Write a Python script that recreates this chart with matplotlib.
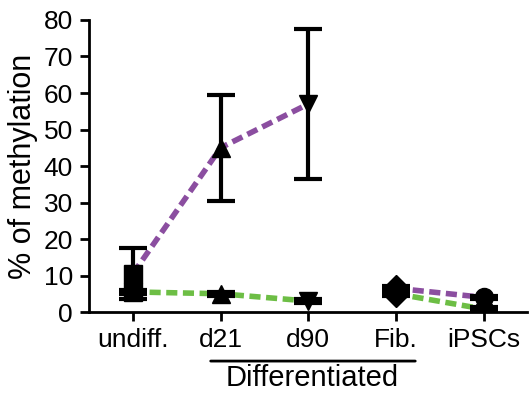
import numpy as np
import matplotlib.pyplot as plt

plt.rcParams['font.family'] = 'Liberation Sans'

groups = ['undiff.', 'd21', 'd90', 'Fib.', 'iPSCs']
markers = ['s', '^', 'v', 'D', 'o']

purple_mean = [10.5, 45, 57, 6.5, 4]
purple_err = [7, 14.5, 20.5, 0.5, 0.5]
green_mean = [5.5, 5, 3, 5, 0.8]
green_err = [0.5, 0.5, 0.5, 0.5, 0.5]

# lines are broken between d90 and Fib.
segments = [[0, 1, 2], [3, 4]]

x = np.arange(len(groups))

fig = plt.figure(figsize=(5.3, 3.96), dpi=100)
ax = fig.add_axes([0.168, 0.2121, 0.826, 0.7374])

for seg in segments:
    ax.plot(x[seg], np.array(purple_mean)[seg], color='#8B4EA0', lw=4, dashes=(2, 1), zorder=2)
    ax.plot(x[seg], np.array(green_mean)[seg], color='#6DBE45', lw=4, dashes=(2, 1), zorder=2)

for i in range(len(groups)):
    for m, e in [(purple_mean, purple_err), (green_mean, green_err)]:
        ax.errorbar(x[i], m[i], yerr=e[i], fmt=markers[i], color='black',
                    ms=13, elinewidth=3, capsize=10, capthick=3, zorder=3)

ax.set_ylim(0, 80)
ax.set_yticks(range(0, 81, 10))
ax.set_xlim(-0.5, 4.49)
ax.set_xticks(x)
ax.set_xticklabels(groups)
ax.set_ylabel('% of methylation', fontsize=22, labelpad=4)
ax.tick_params(labelsize=19, width=2, length=6.5, pad=5)
for s in ['top', 'right']:
    ax.spines[s].set_visible(False)
for s in ['left', 'bottom']:
    ax.spines[s].set_linewidth(2)

ax.annotate('', xy=(0.855, -0.168), xytext=(3.25, -0.168), xycoords=('data', 'axes fraction'),
            arrowprops=dict(arrowstyle='-', lw=2, color='black'), annotation_clip=False)
ax.text(2.045, -0.226, 'Differentiated', transform=ax.get_xaxis_transform(),
        ha='center', va='center', fontsize=21)

fig.savefig('out.png', dpi=100)
